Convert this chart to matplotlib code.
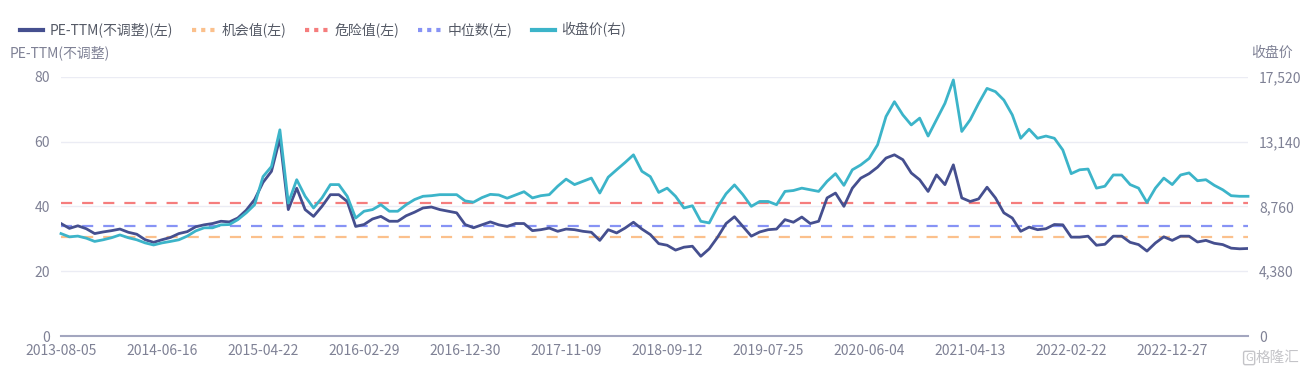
import matplotlib
matplotlib.use('Agg')
import matplotlib.pyplot as plt
from matplotlib.lines import Line2D
from matplotlib.ticker import FuncFormatter

plt.rcParams['font.family'] = ['Noto Sans CJK SC', 'DejaVu Sans']

# x-axis tick labels (one every 12 samples)
tick_labels = ['2013-08-05', '2014-06-16', '2015-04-22', '2016-02-29', '2016-12-30', '2017-11-09',
               '2018-09-12', '2019-07-25', '2020-06-04', '2021-04-13', '2022-02-22', '2022-12-27']

# PE-TTM (unadjusted), left axis
pe_ttm = [34.7, 33.2, 34.0, 33.1, 31.6, 32.1, 32.5, 33.0, 32.0, 31.4, 29.7, 28.9,
          29.7, 30.4, 31.6, 32.2, 33.7, 34.3, 34.7, 35.4, 35.2, 36.4, 38.8, 42.1,
          47.4, 50.8, 61.0, 39.0, 45.6, 39.0, 36.9, 40.0, 43.6, 43.6, 41.5, 33.8,
          34.4, 36.1, 36.9, 35.4, 35.4, 37.1, 38.2, 39.5, 39.8, 39.0, 38.5, 38.0,
          34.4, 33.4, 34.3, 35.2, 34.3, 33.8, 34.7, 34.7, 32.5, 32.8, 33.3, 32.3,
          33.0, 32.8, 32.3, 32.0, 29.5, 32.8, 31.8, 33.3, 35.1, 33.0, 31.3, 28.5,
          28.0, 26.5, 27.4, 27.7, 24.6, 26.9, 30.5, 34.7, 36.8, 33.8, 30.8, 32.1,
          32.8, 33.0, 35.9, 35.1, 36.7, 34.7, 35.4, 42.6, 44.1, 40.0, 45.6,
          48.7, 50.1, 52.1, 54.9, 55.9, 54.4, 50.3, 48.2, 44.6, 49.7, 46.7, 52.8,
          42.6, 41.5, 42.3, 45.9, 42.6, 38.0, 36.4, 32.3, 33.6, 32.8, 33.1, 34.4,
          34.3, 30.5, 30.5, 30.8, 28.0, 28.3, 30.8, 30.8, 28.9, 28.2, 26.2, 28.7,
          30.6, 29.5, 30.8, 30.8, 29.0, 29.5, 28.6, 28.2, 27.1, 26.9, 27.0]

# closing price, right axis
close = [6920, 6700, 6750, 6610, 6390, 6500, 6640, 6830, 6640, 6500, 6290, 6150,
         6290, 6390, 6500, 6750, 7100, 7310, 7310, 7510, 7530, 7860, 8320, 8870,
         10770, 11450, 13930, 8980, 10560, 9440, 8650, 9330, 10230, 10230, 9440, 7970,
         8430, 8540, 8870, 8430, 8430, 8870, 9220, 9440, 9480, 9550, 9550, 9550,
         9130, 9040, 9350, 9570, 9530, 9310, 9530, 9750, 9330, 9480, 9550, 10120,
         10600, 10230, 10450, 10670, 9660, 10730, 11230, 11720, 12240, 11130, 10770, 9700,
         9990, 9440, 8650, 8800, 7750, 7640, 8720, 9610, 10210, 9550, 8760, 9090,
         9090, 8870, 9770, 9830, 9990, 9880, 9770, 10450, 10970, 10180, 11230,
         11560, 12000, 12920, 14830, 15830, 14940, 14260, 14720, 13510, 14610, 15720, 17300,
         13820, 14610, 15720, 16730, 16510, 15940, 14940, 13360, 13970, 13360, 13510, 13360,
         12570, 10970, 11230, 11280, 9990, 10120, 10880, 10880, 10230, 9990, 9020, 9990,
         10670, 10230, 10880, 11020, 10490, 10560, 10180, 9880, 9480, 9440, 9440]

chance_val = 30.6
danger_val = 41.0
median_val = 34.0

c_pe = '#454f8f'
c_close = '#3cb4c9'
c_chance = '#fbc08c'
c_danger = '#f57d7d'
c_median = '#8793f5'
c_tick = '#7f8195'

fig = plt.figure(figsize=(13.05, 3.75), dpi=100)
ax = fig.add_axes([61 / 1305, 39 / 375, 1187 / 1305, 259.3 / 375])
ax2 = ax.twinx()

x = list(range(len(pe_ttm)))

for val, col in [(chance_val, c_chance), (danger_val, c_danger), (median_val, c_median)]:
    ax.axhline(val, color=col, lw=1.6, dashes=(5, 4.5), zorder=2)

ax.plot(x, pe_ttm, color=c_pe, lw=2, zorder=3)
ax2.plot(x, close, color=c_close, lw=2, zorder=3, clip_on=False)

ax.set_xlim(0, len(pe_ttm) - 1)
ax.set_ylim(0, 80)
ax2.set_ylim(0, 17520)
ax.set_yticks([0, 20, 40, 60, 80])
ax2.set_yticks([0, 4380, 8760, 13140, 17520])
ax2.yaxis.set_major_formatter(FuncFormatter(lambda v, p: f'{int(v):,}'))
ax.set_xticks(list(range(0, 12 * len(tick_labels), 12)))
ax.set_xticklabels(tick_labels)

ax.grid(axis='y', color='#ebecf4', lw=1)
ax.set_axisbelow(True)
for a in (ax, ax2):
    for s in a.spines.values():
        s.set_visible(False)
    a.tick_params(length=0, labelsize=10, labelcolor=c_tick)
ax.spines['bottom'].set_visible(True)
ax.spines['bottom'].set_color('#a3a6bf')
ax.spines['bottom'].set_linewidth(1.5)
ax.tick_params(axis='y', pad=8)
ax.tick_params(axis='x', pad=6)
ax2.tick_params(axis='y', pad=8)

fig.text(10 / 1305, 1 - 53 / 375, 'PE-TTM(不调整)', fontsize=10, color=c_tick, va='center', ha='left')
fig.text(1293 / 1305, 1 - 53 / 375, '收盘价', fontsize=10, color=c_tick, va='center', ha='right')

handles = [
    Line2D([], [], color=c_pe, lw=3),
    Line2D([], [], color=c_chance, lw=3, ls=(0, (1, 1.2))),
    Line2D([], [], color=c_danger, lw=3, ls=(0, (1, 1.2))),
    Line2D([], [], color=c_median, lw=3, ls=(0, (1, 1.2))),
    Line2D([], [], color=c_close, lw=3),
]
labels = ['PE-TTM(不调整)(左)', '机会值(左)', '危险值(左)', '中位数(左)', '收盘价(右)']
fig.legend(handles, labels, loc='center left', bbox_to_anchor=(14 / 1305, 1 - 30 / 375), ncol=5,
           frameon=False, fontsize=10, labelcolor='#555a66', handlelength=1.7, handletextpad=0.45,
           columnspacing=1.35, borderaxespad=0)

fig.text(1253 / 1305, 1 - 358 / 375, 'G', fontsize=8, color='#c4c4c8', va='center', ha='right',
         bbox=dict(boxstyle='round,pad=0.15', fc='none', ec='#c4c4c8', lw=1))
fig.text(1299 / 1305, 1 - 358 / 375, '格隆汇', fontsize=10.5, color='#c4c4c8', va='center', ha='right')

fig.savefig('out.png', dpi=100)
